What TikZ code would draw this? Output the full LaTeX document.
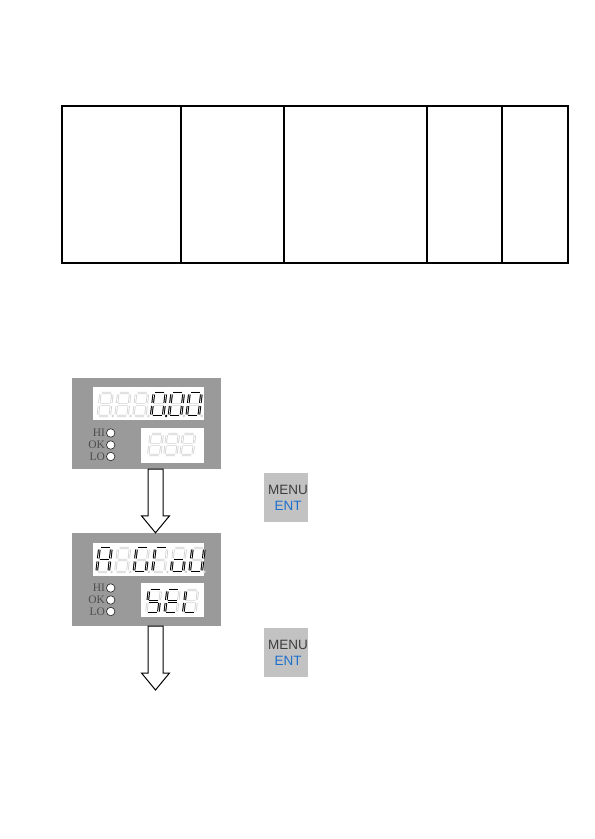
\documentclass[tikz,border=0pt]{standalone}
\usepackage{fontspec}
\setmainfont{Liberation Serif}
\newfontfamily\btnfont{Liberation Sans}
\usepackage{tikz}
\usetikzlibrary{
	positioning,
	calc
}

\definecolor{panelgray}{RGB}{154,154,154}
\definecolor{btngray}{RGB}{194,194,194}
\definecolor{menugray}{RGB}{62,62,62}
\definecolor{entblue}{RGB}{28,112,205}
\definecolor{ledtext}{RGB}{78,78,78}

% segments of one digit, top left at (0,0)
\tikzset{
	seg a/.style={insert path={(1.5,0) -- (10.5,0)}},
	seg b/.style={insert path={(12,1.5) -- (12,9.5)}},
	seg c/.style={insert path={(12,12.5) -- (12,20.5)}},
	seg d/.style={insert path={(1.5,22) -- (10.5,22)}},
	seg e/.style={insert path={(0,12.5) -- (0,20.5)}},
	seg f/.style={insert path={(0,1.5) -- (0,9.5)}},
	seg g/.style={insert path={(1.5,11) -- (10.5,11)}}
}

\newcommand{\segdigit}[4][1]{%
	\begin{scope}[shift={#2}, xslant=0.12, yscale=#1]
		\draw[segoff, seg a, seg b, seg c, seg d, seg e, seg f, seg g];
		\ifx\relax#3\relax\else
			\foreach \s in {#3} {\draw[segon, seg \s];}
		\fi
		\fill[#4] (15,22) circle[radius=1.3];
	\end{scope}}

\newcommand{\blockarrow}[2]{%
	\draw[hollowarrow] let \p1=(#1), \p2=(#2) in
		(\x1-7.5pt,\y1) -- (\x1+7.5pt,\y1) -- (\x1+7.5pt,\y2+17pt) -- (\x1+14pt,\y2+17pt)
		-- (\x1,\y2) -- (\x1-14pt,\y2+17pt) -- (\x1-7.5pt,\y2+17pt) -- cycle;}

\begin{document}
\begin{tikzpicture}[x=1pt, y=-1pt,
					panel/.style={
					rectangle, fill=panelgray, inner sep=0pt,
					minimum width=149pt
				},
				screen/.style={
					rectangle, fill=white, inner sep=0pt
				},
				led/.style={
					circle, draw=black!80, fill=white, line width=0.7pt,
					inner sep=0pt, minimum size=8.5pt
				},
				ledlabel/.style={
					inner sep=0pt, text=ledtext, font=\fontsize{11.5}{11.5}\selectfont
				},
				button/.style={
					rectangle, fill=btngray, inner sep=0pt,
					minimum width=44pt, minimum height=49pt
				},
				btnlabel/.style={
					align=center, inner sep=0pt, font=\btnfont\fontsize{13.5}{16}\selectfont
				},
				segoff/.style={draw=black!18, double=white, double distance=0.7pt, line width=0.8pt},
				segon/.style={draw=black, double=white, double distance=0.6pt, line width=1pt},
				dpon/.style={fill=black},
				dpoff/.style={fill=black!18},
				dpnone/.style={fill=none},
				hollowarrow/.style={draw=black, fill=white, line width=1pt},
				tableline/.style={draw=black, line width=1.1pt},
				]
				
				\useasboundingbox (0,0) rectangle (595,839);
				
				%table
				\draw[tableline] (62,106) rectangle (568,263);
				\foreach \x in {181,284,427,502}
					\draw[tableline] (\x,106) -- (\x,263);
				
				%first panel
				\node[panel, minimum height=91pt] (panelA) at (146.5,423.5) {};
				\node[screen, minimum width=111pt, minimum height=33pt] (screenA) at (148.4,403.4) {};
				\node[screen, minimum width=63pt, minimum height=34.5pt] (subA) at (172.6,445.3) {};
				
				\foreach \i in {0,1,2}
					\segdigit[1.045]{(100.5+17.8*\i,393)}{}{dpoff};
				\segdigit[1.045]{(153.9,393)}{a,b,c,d,e,f}{dpon};
				\segdigit[1.045]{(171.7,393)}{a,b,c,d,e,f}{dpoff};
				\segdigit[1.045]{(189.5,393)}{a,b,c,d,e,f}{dpoff};
				\foreach \i in {0,1,2}
					\segdigit[0.955]{(150.7+16.2*\i,434)}{}{dpnone};
				
				\node[led] (hiA) at (110.7,433) {};
				\node[led] (okA) at (110.7,445) {};
				\node[led] (loA) at (110.7,456.5) {};
				\node[ledlabel, left=1pt of hiA] {HI};
				\node[ledlabel, left=1pt of okA] {OK};
				\node[ledlabel, left=1pt of loA] {LO};
				
				\node[button] (btnA) at (286,497.5) {};
				\node[btnlabel] (keyA) at ($(btnA.center)+(2,0.5)$) {\textcolor{menugray}{MENU}\\\textcolor{entblue}{ENT}};
				
				%second panel
				\node[panel, minimum height=93pt] (panelB) at (146.5,579.5) {};
				\node[screen, minimum width=111pt, minimum height=32.4pt] (screenB) at (148.4,559.5) {};
				\node[screen, minimum width=63pt, minimum height=34pt] (subB) at (172.6,600.3) {};
				
				\segdigit[1.09]{(99.5,548)}{a,b,c,e,f,g}{dpoff};
				\segdigit[1.09]{(118.1,548)}{}{dpoff};
				\segdigit[1.09]{(136.7,548)}{a,c,d,e,f}{dpoff};
				\segdigit[1.09]{(155.3,548)}{a,e,f}{dpoff};
				\segdigit[1.09]{(173.9,548)}{c,d,e,g}{dpoff};
				\segdigit[1.09]{(192.5,548)}{b,c,d,e,f}{dpoff};
				\segdigit[1.045]{(149,590)}{a,f,g,c,d}{dpnone};
				\segdigit[1.045]{(167.5,590)}{a,f,g,e,d}{dpnone};
				\segdigit[1.045]{(186,590)}{f,e,d}{dpnone};
				
				\node[led] (hiB) at (110.7,588) {};
				\node[led] (okB) at (110.7,600) {};
				\node[led] (loB) at (110.7,611.5) {};
				\node[ledlabel, left=1pt of hiB] {HI};
				\node[ledlabel, left=1pt of okB] {OK};
				\node[ledlabel, left=1pt of loB] {LO};
				
				\node[button] (btnB) at (286,652.5) {};
				\node[btnlabel] (keyB) at ($(btnB.center)+(2,0.5)$) {\textcolor{menugray}{MENU}\\\textcolor{entblue}{ENT}};
				
				%arrows
				\coordinate (endB) at (155.5,690);
				\blockarrow{$(panelA.south)+(9,0)$}{panelB.north}
				\blockarrow{$(panelB.south)+(9,0)$}{endB}
			\end{tikzpicture}
\end{document}
